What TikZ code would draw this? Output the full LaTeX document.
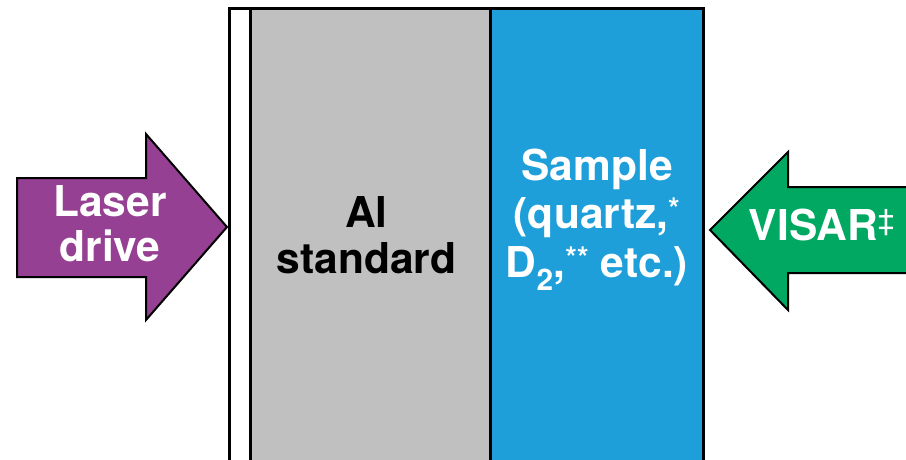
\documentclass[tikz,border=0pt]{standalone}
\usepackage{fontspec}
\setmainfont{TeX Gyre Heros}
\definecolor{laserpurple}{RGB}{149,64,146}
\definecolor{visargreen}{RGB}{0,168,98}
\definecolor{samplecyan}{RGB}{30,159,217}
\definecolor{algray}{RGB}{192,192,192}
\tikzset{
  layer/.style={line width=3pt},
  beam/.style={draw=black, line width=2pt, line join=miter},
  lbl/.style={font=\fontsize{42.5}{45}\selectfont\bfseries, align=center, inner sep=0pt},
}
\begin{document}
\begin{tikzpicture}[x=1pt,y=-1pt]
  \clip (0,0) rectangle (906,459);
  % target stack: ablator gap, Al standard, sample
  \path[fill=white] (229,8) rectangle (250,470);
  \path[fill=algray] (250,8) rectangle (490,470);
  \path[fill=samplecyan] (490,8) rectangle (703,470);
  \draw[layer] (229,470) -- (229,8) -- (703,8) -- (703,470);
  \draw[layer] (250,8) -- (250,470);
  \draw[layer] (490,8) -- (490,470);
  % drive beam and probe beam
  \draw[beam, fill=laserpurple] (17,178) -- (146,178) -- (146,134) -- (227,227)
    -- (146,320) -- (146,277) -- (17,277) -- cycle;
  \draw[beam, fill=visargreen] (920,187) -- (788,187) -- (788,152) -- (710,230)
    -- (788,310) -- (788,273) -- (920,273) -- cycle;
  % labels
  \node[lbl, text=white] (laser) at (110,224) {Laser\\drive};
  \node[lbl] (al) at (366.5,235) {Al\\[1pt]standard};
  \node[lbl, text=white] (sample) at (597,220)
    {Sample\\[3pt](quartz,\textsuperscript{*}\\[4pt]D\textsubscript{2},\textsuperscript{**} etc.)};
  \node[lbl, text=white, anchor=base] (visar) at (822,240)
    {VISAR{\mdseries\textsuperscript{‡}}};
\end{tikzpicture}
\end{document}
